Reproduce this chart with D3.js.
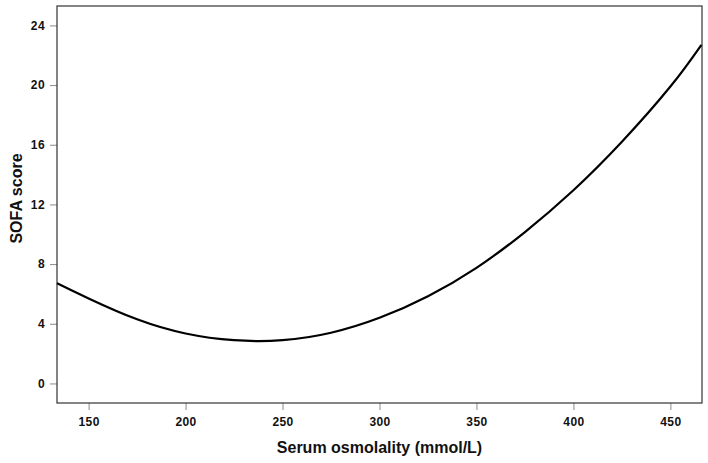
<!DOCTYPE html>
<html>
<head>
<meta charset="utf-8">
<script src="https://cdn.jsdelivr.net/npm/d3@7"></script>
<style>
  body { margin: 0; background: #fff; }
  .tick text { font-family: "Liberation Sans", Arial, sans-serif; font-weight: bold; font-size: 12px; letter-spacing: 0.4px; fill: #111; }
  .axis-title { font-family: "Liberation Sans", Arial, sans-serif; font-weight: bold; fill: #111; }
</style>
</head>
<body>
<div class="chart"></div>
<script>
// values
var osmolality = [133.7, 150, 175, 200, 225, 250, 275, 300, 325, 350, 375, 400, 425, 450, 466];
var sofa = [6.72, 5.7, 4.3, 3.35, 2.9, 2.9, 3.4, 4.4, 5.85, 7.75, 10.15, 12.95, 16.2, 19.9, 22.7];
var xTicks = [150, 200, 250, 300, 350, 400, 450];
var yTicks = [0, 4, 8, 12, 16, 20, 24];

var svgWidth = 708;
var svgHeight = 463;

var margin = { top: 6, right: 6, bottom: 60, left: 57 };
var width = svgWidth - margin.left - margin.right;
var height = svgHeight - margin.top - margin.bottom;

var svg = d3.select(".chart")
  .append("svg")
  .attr("width", svgWidth)
  .attr("height", svgHeight);

var chartGroup = svg.append("g")
  .attr("transform", `translate(${margin.left}, ${margin.top})`);

var xScale = d3.scaleLinear()
  .domain([133.7, 466.3])
  .range([0, width]);

var yScale = d3.scaleLinear()
  .domain([-1.31, 25.3])
  .range([height, 0]);

var xAxis = d3.axisBottom(xScale).tickValues(xTicks).tickSize(7).tickPadding(5);
var yAxis = d3.axisLeft(yScale).tickValues(yTicks).tickSize(7).tickPadding(5);

var gx = chartGroup.append("g")
  .attr("transform", `translate(0, ${height})`)
  .call(xAxis);
var gy = chartGroup.append("g")
  .call(yAxis);

[gx, gy].forEach(function(g) {
  g.select(".domain").remove();
  g.selectAll(".tick line").attr("stroke", "#8a8a8a");
});
gx.selectAll(".tick text").attr("dy", "0.95em");

// frame
chartGroup.append("rect")
  .attr("x", 0)
  .attr("y", 0)
  .attr("width", width)
  .attr("height", height)
  .attr("fill", "none")
  .attr("stroke", "#333")
  .attr("stroke-width", 1.2);

var line = d3.line()
  .x(function(d, i) { return xScale(osmolality[i]); })
  .y(function(d) { return yScale(d); })
  .curve(d3.curveNatural);

chartGroup.append("path")
  .datum(sofa)
  .attr("d", line)
  .attr("fill", "none")
  .attr("stroke", "#000")
  .attr("stroke-width", 2.2);

chartGroup.append("text")
  .attr("class", "axis-title")
  .attr("text-anchor", "middle")
  .style("font-size", "16px")
  .attr("transform", "translate(" + (width / 2) + "," + (height + 50) + ")")
  .text("Serum osmolality (mmol/L)");

chartGroup.append("text")
  .attr("class", "axis-title")
  .attr("text-anchor", "middle")
  .style("font-size", "16px")
  .attr("transform", "translate(" + (-35) + "," + (height / 2 - 6) + ")rotate(-90)")
  .text("SOFA score");
</script>
</body>
</html>
